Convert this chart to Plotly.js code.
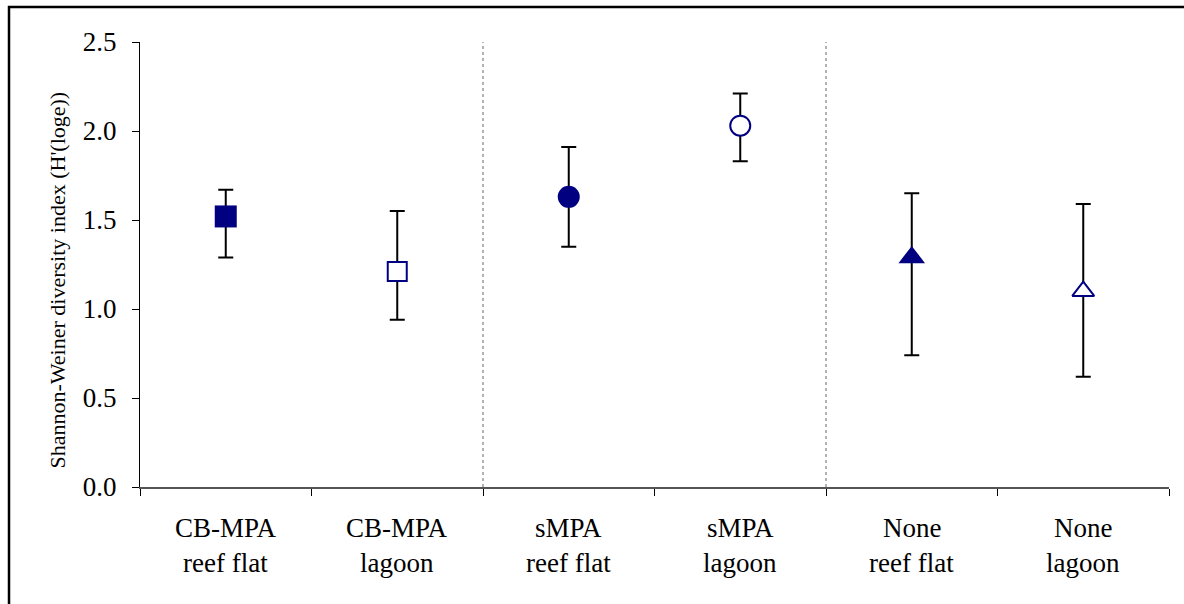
<!DOCTYPE html>
<html>
<head>
<meta charset="utf-8">
<script src="https://cdn.plot.ly/plotly-3.0.1.min.js"></script>
<style>html,body{margin:0;padding:0;background:#fff;}#chart{width:1184px;height:604px;}</style>
</head>
<body>
<div id="chart"></div>
<script>
var categories = ['CB-MPA reef flat','CB-MPA lagoon','sMPA reef flat','sMPA lagoon','None reef flat','None lagoon'];
var labelLine1 = ['CB-MPA','CB-MPA','sMPA','sMPA','None','None'];
var labelLine2 = ['reef flat','lagoon','reef flat','lagoon','reef flat','lagoon'];
var means = [1.52, 1.21, 1.63, 2.03, 1.29, 1.10];
var upper = [1.67, 1.55, 1.91, 2.21, 1.65, 1.59];
var lower = [1.29, 0.94, 1.35, 1.83, 0.74, 0.62];
var yTicks = [0, 0.5, 1.0, 1.5, 2.0, 2.5];
var yTickText = ['0.0','0.5','1.0','1.5','2.0','2.5'];
var groupBoundaries = [1.5, 3.5];

var navy = '#000080';
var symbols = ['square','square','circle','circle','triangle-up','triangle-up'];
var fills = [navy,'#ffffff',navy,'#ffffff',navy,'#ffffff'];
var sizes = [22,19,22,20,23,19];
var lineW = [0,2,0,2,0,2];

var errPlus = means.map(function(m,i){return +(upper[i]-m).toFixed(3);});
var errMinus = means.map(function(m,i){return +(m-lower[i]).toFixed(3);});

var trace = {
  type:'scatter', mode:'markers',
  x: categories, y: means,
  marker:{symbol:symbols, color:fills, size:sizes, opacity:1, line:{color:navy, width:lineW}},
  error_y:{type:'data', symmetric:false, array:errPlus, arrayminus:errMinus,
           color:'#000000', thickness:2, width:7.5},
  hoverinfo:'skip', showlegend:false, cliponaxis:false
};

var serif = 'Liberation Serif, Times New Roman, serif';
var annotations = [];
categories.forEach(function(c,i){
  annotations.push({xref:'x', yref:'paper', x:c, y:0, yshift:-41, yanchor:'middle', showarrow:false,
    text:labelLine1[i], font:{family:serif, size:27, color:'#000'}});
  annotations.push({xref:'x', yref:'paper', x:c, y:0, yshift:-76, yanchor:'middle', showarrow:false,
    text:labelLine2[i], font:{family:serif, size:27, color:'#000'}});
});
annotations.push({xref:'paper', yref:'paper', x:0, xshift:-83, y:0.5, yshift:-16, xanchor:'center', yanchor:'middle',
  showarrow:false, textangle:-90, text:"Shannon-Weiner diversity index (H'(loge))",
  font:{family:serif, size:22, color:'#000'}});

var shapes = groupBoundaries.map(function(b){
  return {type:'line', xref:'x', yref:'y', x0:b, x1:b, y0:0, y1:2.5,
          line:{color:'#999999', width:1.5, dash:'dot'}, layer:'below'};
});
shapes.push({type:'rect', xref:'paper', yref:'paper', x0:-0.1273, x1:1.2, y0:-0.4, y1:1.0787,
  line:{color:'#000000', width:2.5}, fillcolor:'rgba(0,0,0,0)'});

var layout = {
  width:1184, height:604,
  margin:{l:140, r:15, t:42, b:117, pad:0},
  paper_bgcolor:'#ffffff', plot_bgcolor:'#ffffff',
  font:{family:serif, color:'#000'},
  xaxis:{type:'category', range:[-0.5,5.5], tickson:'boundaries', ticks:'outside', ticklen:7, tickwidth:1,
         tickcolor:'#000', showticklabels:false, showline:true, linecolor:'#555555', linewidth:2,
         showgrid:false, zeroline:false, fixedrange:true},
  yaxis:{range:[0,2.5], tickvals:yTicks, ticktext:yTickText, ticks:'outside', ticklen:7, tickwidth:1,
         tickcolor:'#000', showline:true, linecolor:'#000', linewidth:1.2, showgrid:false, zeroline:false,
         tickfont:{family:serif, size:27, color:'#000'}, ticklabelstandoff:10, fixedrange:true},
  annotations:annotations,
  shapes:shapes
};

Plotly.newPlot('chart',[trace],layout,{staticPlot:true, displayModeBar:false});
</script>
</body>
</html>
